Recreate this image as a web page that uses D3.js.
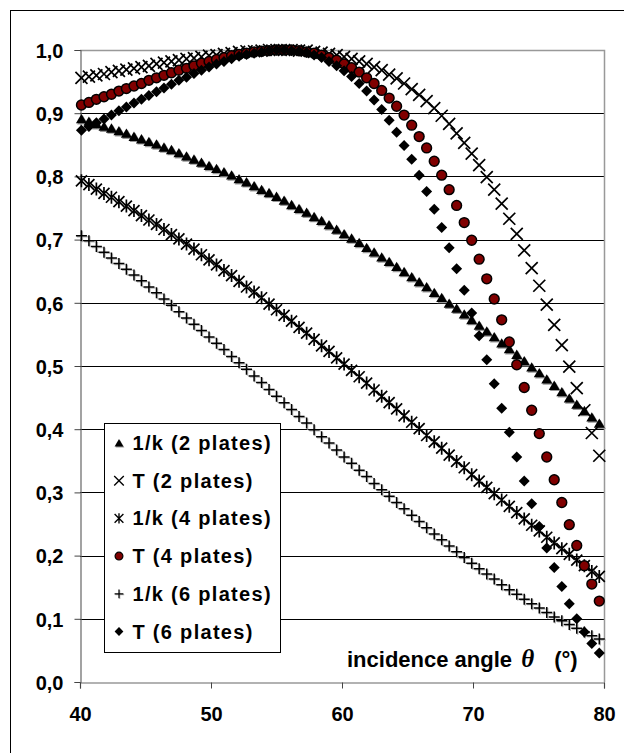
<!DOCTYPE html>
<html>
<head>
<meta charset="utf-8">
<script src="https://cdn.jsdelivr.net/npm/d3@7"></script>
<style>
body { margin:0; background:#fff; }
text { font-family: Arial, "Liberation Sans", sans-serif; font-weight:bold; }
</style>
</head>
<body>
<svg></svg>
<script>
// incidence angle in degrees (0.70 to 1.39 rad)
var angle = [40.11,40.68,41.25,41.83,42.40,42.97,43.54,44.12,44.69,45.26,
  45.84,46.41,46.98,47.55,48.13,48.70,49.27,49.85,50.42,50.99,
  51.57,52.14,52.71,53.29,53.86,54.43,55.00,55.58,56.15,56.72,
  57.30,57.87,58.44,59.01,59.59,60.16,60.73,61.31,61.88,62.45,
  63.03,63.60,64.17,64.74,65.32,65.89,66.46,67.04,67.61,68.18,
  68.75,69.33,69.90,70.47,71.05,71.62,72.19,72.77,73.34,73.91,
  74.48,75.06,75.63,76.20,76.78,77.35,77.92,78.50,79.07,79.64];

var invK2 = [0.891,0.887,0.883,0.879,0.876,0.872,0.868,0.863,0.859,0.855,
  0.851,0.846,0.842,0.837,0.832,0.827,0.822,0.817,0.812,0.807,
  0.802,0.796,0.791,0.785,0.779,0.774,0.768,0.762,0.755,0.749,
  0.743,0.736,0.730,0.723,0.716,0.709,0.702,0.695,0.687,0.680,
  0.672,0.665,0.657,0.649,0.641,0.633,0.625,0.616,0.608,0.599,
  0.591,0.582,0.573,0.564,0.555,0.546,0.536,0.527,0.518,0.508,
  0.498,0.489,0.479,0.469,0.459,0.449,0.439,0.429,0.419,0.409];

var T2 = [0.956,0.958,0.960,0.962,0.965,0.967,0.969,0.971,0.973,0.975,
  0.978,0.980,0.982,0.984,0.986,0.987,0.989,0.991,0.992,0.994,
  0.995,0.997,0.998,0.998,0.999,1.000,1.000,1.000,1.000,0.999,
  0.999,0.997,0.996,0.994,0.992,0.989,0.986,0.982,0.978,0.973,
  0.968,0.961,0.955,0.947,0.938,0.929,0.919,0.908,0.896,0.883,
  0.868,0.853,0.836,0.818,0.799,0.779,0.757,0.733,0.709,0.683,
  0.655,0.627,0.597,0.565,0.533,0.499,0.465,0.430,0.394,0.358];

var invK4 = [0.793,0.787,0.780,0.773,0.767,0.760,0.753,0.746,0.738,0.731,
  0.724,0.716,0.708,0.701,0.693,0.685,0.676,0.668,0.660,0.651,
  0.643,0.634,0.625,0.617,0.608,0.598,0.589,0.580,0.571,0.561,
  0.552,0.542,0.532,0.523,0.513,0.503,0.493,0.483,0.473,0.462,
  0.452,0.442,0.432,0.421,0.411,0.401,0.390,0.380,0.370,0.359,
  0.349,0.339,0.328,0.318,0.308,0.298,0.288,0.278,0.268,0.258,
  0.248,0.239,0.229,0.220,0.211,0.202,0.193,0.184,0.175,0.167];

var T4 = [0.913,0.917,0.922,0.926,0.930,0.935,0.939,0.943,0.947,0.952,
  0.956,0.960,0.964,0.968,0.971,0.975,0.979,0.982,0.985,0.988,
  0.991,0.993,0.995,0.997,0.998,0.999,1.000,1.000,1.000,0.999,
  0.997,0.995,0.992,0.988,0.984,0.978,0.972,0.965,0.956,0.947,
  0.936,0.924,0.911,0.897,0.881,0.863,0.845,0.824,0.802,0.779,
  0.754,0.727,0.699,0.669,0.638,0.606,0.573,0.538,0.502,0.466,
  0.430,0.393,0.356,0.320,0.284,0.249,0.216,0.184,0.155,0.128];

var invK6 = [0.706,0.698,0.689,0.680,0.671,0.662,0.653,0.644,0.635,0.625,
  0.616,0.606,0.596,0.586,0.576,0.566,0.556,0.546,0.536,0.526,
  0.515,0.505,0.495,0.484,0.474,0.463,0.452,0.442,0.431,0.420,
  0.410,0.399,0.388,0.378,0.367,0.356,0.346,0.335,0.325,0.314,
  0.304,0.294,0.284,0.274,0.264,0.254,0.244,0.234,0.225,0.215,
  0.206,0.197,0.188,0.179,0.171,0.163,0.154,0.146,0.139,0.131,
  0.124,0.117,0.110,0.103,0.097,0.091,0.085,0.079,0.073,0.068];

var T6 = [0.873,0.879,0.885,0.891,0.897,0.904,0.910,0.916,0.922,0.928,
  0.934,0.940,0.946,0.952,0.957,0.963,0.968,0.973,0.978,0.982,
  0.986,0.990,0.993,0.995,0.997,0.999,1.000,1.000,0.999,0.998,
  0.996,0.992,0.988,0.982,0.975,0.967,0.958,0.947,0.935,0.921,
  0.906,0.889,0.870,0.849,0.827,0.802,0.776,0.748,0.719,0.687,
  0.654,0.620,0.584,0.548,0.510,0.472,0.433,0.395,0.356,0.318,
  0.282,0.246,0.212,0.181,0.151,0.124,0.100,0.079,0.061,0.046];

var seriesNames = ["1/k (2 plates)","T (2 plates)","1/k (4 plates)","T (4 plates)","1/k (6 plates)","T (6 plates)"];
var seriesValues = [invK2, T2, invK4, T4, invK6, T6];
var seriesMarkers = ["triangle","times","asterisk","circle","plus","diamond"];

var xTicks = [40,50,60,70,80];
var yTicks = [0,0.1,0.2,0.3,0.4,0.5,0.6,0.7,0.8,0.9,1.0];

var screen = {width:624, height:753};

var svg = d3.select("svg")
            .attr("width",screen.width)
            .attr("height",screen.height);

var plot = {left:80, right:604, top:50, bottom:682};

var xScale = d3.scaleLinear()
               .domain([40,80])
               .range([plot.left,plot.right]);
var yScale = d3.scaleLinear()
               .domain([0,1])
               .range([plot.bottom,plot.top]);

// outer chart frame
svg.append("rect")
   .attr("x",10.5).attr("y",10.5)
   .attr("width",700).attr("height",800)
   .attr("fill","none")
   .attr("stroke","#000")
   .attr("stroke-width",1);

// gridlines
svg.append("g").classed("grid",true)
   .selectAll("line")
   .data(yTicks.filter(function(d){return d>0 && d<1;}))
   .enter()
   .append("line")
   .attr("x1",plot.left).attr("x2",plot.right)
   .attr("y1",function(d){return Math.round(yScale(d))+0.5;})
   .attr("y2",function(d){return Math.round(yScale(d))+0.5;})
   .attr("stroke","#000")
   .attr("stroke-width",1);

// plot border (top / right)
svg.append("path")
   .attr("d","M"+plot.left+","+(plot.top+0.5)+"H"+(plot.right+0.5)+"V"+plot.bottom)
   .attr("fill","none")
   .attr("stroke","#999")
   .attr("stroke-width",1.5);

var yAxis = d3.axisLeft(yScale)
              .tickValues(yTicks)
              .tickSize(6)
              .tickFormat(function(d){return d3.format(".1f")(d).replace(".",",");});

var yAxisG = svg.append("g").classed("yAxis",true)
   .attr("transform","translate("+(plot.left+0.5)+",0)")
   .call(yAxis);

var xAxis = d3.axisBottom(xScale)
              .tickValues(xTicks)
              .tickSize(6)
              .tickFormat(d3.format("d"));

var xAxisG = svg.append("g").classed("xAxis",true)
   .attr("transform","translate(0,"+(plot.bottom+0.5)+")")
   .call(xAxis);

[yAxisG, xAxisG].forEach(function(g)
{
  g.select(".domain").attr("stroke","#666").attr("stroke-width",1.2);
  g.selectAll(".tick line").attr("stroke","#444");
  g.selectAll(".tick text")
   .attr("fill","#000")
   .style("font-size","20px")
   .style("font-family","Arial, 'Liberation Sans', sans-serif")
   .style("font-weight","bold");
});
yAxisG.selectAll(".tick text").attr("x",-17).attr("dy","0.36em");
xAxisG.selectAll(".tick text").attr("y",24);

// marker shapes
var markerPath = {
  triangle:"M0,-5L5.5,4.3L-5.5,4.3Z",
  times:"M-6,-6L6,6M-6,6L6,-6",
  asterisk:"M-5.5,-5.5L5.5,5.5M-5.5,5.5L5.5,-5.5M0,-6.5L0,6.5",
  plus:"M-5.5,0L5.5,0M0,-5.5L0,5.5",
  diamond:"M0,-5.5L5.5,0L0,5.5L-5.5,0Z"
};

var drawMarker = function(sel, type)
{
  if (type=="circle")
  {
    sel.append("circle").attr("r",4.9)
       .attr("fill","#800000").attr("stroke","#000").attr("stroke-width",1.5);
  }
  else if (type=="triangle" || type=="diamond")
  {
    if (type=="triangle")
    {
      sel.append("path").attr("d",markerPath[type])
         .attr("transform","translate(1.2,1.2)")
         .attr("fill","#999");
    }
    sel.append("path").attr("d",markerPath[type]).attr("fill","#000");
  }
  else
  {
    if (type=="plus")
    {
      sel.append("path").attr("d",markerPath[type])
         .attr("transform","translate(1,1)")
         .attr("stroke","#bbb").attr("stroke-width",1.4).attr("fill","none");
    }
    sel.append("path").attr("d",markerPath[type])
       .attr("stroke","#000").attr("stroke-width",type=="plus"?1.5:1.7).attr("fill","none");
  }
};

var plotLand = svg.append("g").classed("plot",true);

seriesValues.forEach(function(values, si)
{
  var pts = plotLand.append("g")
                    .classed("series",true)
                    .selectAll("g")
                    .data(values)
                    .enter()
                    .append("g")
                    .attr("transform",function(d,i){return "translate("+xScale(angle[i])+","+yScale(d)+")";});
  drawMarker(pts, seriesMarkers[si]);
});

// legend
var legend = svg.append("g").classed("legend",true)
                .attr("transform","translate(104.5,423.5)");

legend.append("rect")
      .attr("width",176).attr("height",229)
      .attr("fill","#fff").attr("stroke","#000").attr("stroke-width",1);

var legendLines = legend.selectAll("g")
                        .data(seriesNames)
                        .enter()
                        .append("g")
                        .attr("transform",function(d,i){return "translate(0,"+(19.5+i*37.7)+")";});

legendLines.each(function(d,i)
{
  var m = d3.select(this).append("g").attr("transform","translate(14.5,0) scale(0.8)");
  drawMarker(m, seriesMarkers[i]);
});

legendLines.append("text")
           .attr("x",28)
           .attr("y",7)
           .style("font-size","20px")
           .style("letter-spacing","1.3px")
           .text(function(d){return d;});

// axis title
var title = svg.append("text")
               .attr("x",347)
               .attr("y",667)
               .style("font-size","22px");
title.append("tspan").text("incidence angle ");
title.append("tspan")
     .attr("dx",3)
     .style("font-family","'Liberation Serif', 'DejaVu Serif', serif")
     .style("font-style","italic")
     .style("font-size","25px")
     .text("\u03B8");
title.append("tspan").attr("dx",20).text("(°)");
</script>
</body>
</html>
